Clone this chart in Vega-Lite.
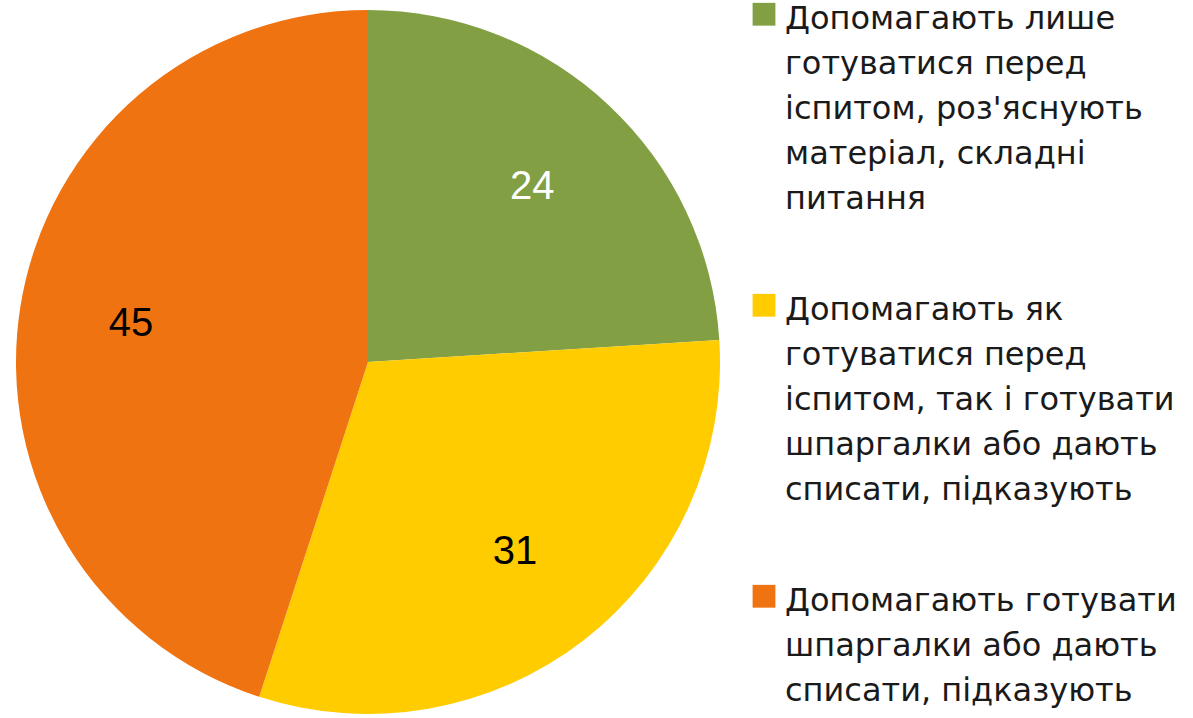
{
  "$schema": "https://vega.github.io/schema/vega-lite/v6.json",
  "width": 736,
  "height": 718,
  "autosize": {"type": "none"},
  "padding": {"left": 0, "top": 3, "right": 457, "bottom": 0},
  "background": "white",
  "config": {
    "view": {"stroke": null},
    "style": {"guide-label": {"lineHeight": 45}}
  },
  "data": {
    "values": [
      {"category": "Допомагають лише|готуватися перед|іспитом, роз'яснують|матеріал, складні|питання", "value": 24, "order": 1},
      {"category": "Допомагають як|готуватися перед|іспитом, так і готувати|шпаргалки або дають|списати, підказують", "value": 31, "order": 2},
      {"category": "Допомагають готувати|шпаргалки або дають|списати, підказують", "value": 45, "order": 3}
    ]
  },
  "encoding": {
    "theta": {"field": "value", "type": "quantitative", "stack": true},
    "order": {"field": "order", "type": "quantitative"}
  },
  "layer": [
    {
      "mark": {"type": "arc", "outerRadius": 352},
      "encoding": {
        "color": {
          "field": "category",
          "type": "nominal",
          "sort": null,
          "scale": {"range": ["#82A043", "#FFCC00", "#F07312"]},
          "legend": {
            "title": null,
            "orient": "none",
            "legendX": 748,
            "legendY": -15,
            "padding": 0,
            "symbolType": "M-1,-0.1L1,-0.1L1,1.9L-1,1.9Z",
            "symbolSize": 520,
            "symbolStrokeWidth": 0,
            "symbolOpacity": 1,
            "labelExpr": "split(datum.label, '|')",
            "labelFont": "DejaVu Sans",
            "labelFontSize": 32,
            "labelColor": "#1a1a1a",
            "labelLimit": 0,
            "labelBaseline": "top",
            "labelOffset": 5,
            "rowPadding": 64
          }
        }
      }
    },
    {
      "mark": {"type": "text", "radius": 240, "font": "Liberation Sans", "fontSize": 40},
      "encoding": {
        "text": {"field": "value", "type": "quantitative"},
        "color": {
          "condition": {"test": "datum.order == 1", "value": "white"},
          "value": "black"
        }
      }
    }
  ]
}
